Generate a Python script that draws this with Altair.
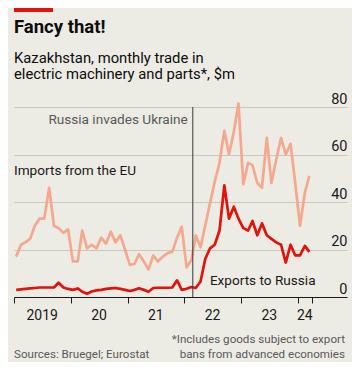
import altair as alt
import pandas as pd

# ---- data ----
start_month = "2019-01"
imports_eu = [17, 22, 23, 24.5, 30, 33, 33, 46, 30, 29, 27, 28.5,
              15, 15, 28, 20.5, 22, 20.5, 25, 22.5, 27.5, 23, 26, 20,
              13.5, 14, 18, 15, 11.5, 17.5, 15, 17, 18.5, 19, 25, 29.6,
              12.5, 15.6, 26, 21, 30, 39.5, 48.5, 56.5, 70, 60, 69.6, 81.5,
              47.5, 56.5, 55.5, 48, 46, 67, 48, 58, 67, 60, 64.5, 48,
              30, 44, 51]
exports_ru = [3, 3.2, 3.4, 3.6, 3.8, 4, 4, 4, 4, 6, 4, 3.4,
              3, 3.6, 2.2, 1.4, 2.3, 2.8, 3, 3.4, 3.6, 3.8, 3.4, 3,
              2.5, 3, 3.7, 3, 2.2, 3.8, 3.9, 3.9, 3.9, 4, 7, 3,
              3.5, 4.2, 3.8, 6.5, 16, 20.5, 22, 28, 47, 33, 38, 33,
              29, 28, 32, 26, 31, 26, 24.5, 23, 22, 14.5, 22, 17.5,
              17.5, 21.5, 19]
series_names = ["Imports from the EU", "Exports to Russia"]
series_colors = ["#F5A88E", "#E3120B"]

year_labels = ["2019", "20", "21", "22", "23", "24"]
year_label_dates = ["2019-07-01", "2020-07-01", "2021-07-01",
                    "2022-07-01", "2023-07-01", "2024-02-15"]
tick_dates = [(2019, 1), (2020, 1), (2021, 1), (2022, 1), (2023, 1), (2024, 1), (2024, 4)]
y_ticks = [0, 20, 40, 60, 80]

invasion_date = "2022-02-24"
event_label = "Russia invades Ukraine"

title = "Fancy that!"
subtitle = ["Kazakhstan, monthly trade in", "electric machinery and parts*, $m"]
source = "Sources: Bruegel; Eurostat"
footnote = ["*Includes goods subject to export", "bans from advanced economies"]

FONT = "Roboto"
BG = "#ECEBE4"

# ---- tables ----
dates = [d.strftime("%Y-%m-%d") for d in
         pd.date_range(start_month + "-01", periods=len(imports_eu), freq="MS") + pd.Timedelta(days=14)]
df = pd.concat([
    pd.DataFrame({"date": dates, "value": imports_eu, "series": series_names[0], "order": 0}),
    pd.DataFrame({"date": dates, "value": exports_ru, "series": series_names[1], "order": 1}),
])

W, H = 333, 190

x_scale = alt.Scale(type="utc", domain=[alt.DateTime(year=2019, month=1, date=1, utc=True),
                                        alt.DateTime(year=2024, month=11, date=12, utc=True)])
y_scale = alt.Scale(domain=[0, 80], nice=False)

x_axis = alt.Axis(values=[alt.DateTime(year=y, month=m, date=1, utc=True) for y, m in tick_dates],
                  labels=False, ticks=True, tickSize=6, tickColor="#1a1a1a", tickWidth=1,
                  domainColor="#1a1a1a", domainWidth=1, grid=False, title=None)
y_axis = alt.Axis(orient="right", values=y_ticks, grid=True, gridColor="#C9C8C0", gridWidth=1,
                  domain=False, ticks=False, tickSize=0, labelAlign="right", labelBaseline="bottom",
                  labelPadding=0, labelOffset=-1, labelFont=FONT, labelFontSize=14.5,
                  labelColor="#1a1a1a", title=None)

lines = alt.Chart(df).mark_line(strokeWidth=2.7, strokeJoin="round", clip=False).encode(
    x=alt.X("date:T", scale=x_scale, axis=x_axis),
    y=alt.Y("value:Q", scale=y_scale, axis=y_axis),
    color=alt.Color("series:N", scale=alt.Scale(domain=series_names, range=series_colors), legend=None),
    order=alt.Order("order:Q"),
    detail="series:N",
)

rule = alt.Chart(pd.DataFrame({"date": [invasion_date], "y0": [0], "y1": [80]})).mark_rule(
    color="#3a3a3a", strokeWidth=1).encode(
    x="date:T", y="y0:Q", y2="y1:Q")

ann_df = pd.DataFrame({
    "date": [invasion_date, "2019-01-01", "2022-06-14"],
    "value": [73, 51.4, 5],
    "text": [event_label, series_names[0], series_names[1]],
})
ann_event = alt.Chart(ann_df.iloc[[0]]).mark_text(
    align="right", baseline="alphabetic", dx=-5, font=FONT, fontSize=13.6, color="#5a5a5a").encode(
    x="date:T", y="value:Q", text="text:N")
ann_series = alt.Chart(ann_df.iloc[[1, 2]]).mark_text(
    align="left", baseline="alphabetic", font=FONT, fontSize=13.6, color="#1a1a1a").encode(
    x="date:T", y="value:Q", text="text:N")

years = alt.Chart(pd.DataFrame({"date": year_label_dates, "label": year_labels})).mark_text(
    align="center", baseline="alphabetic", font=FONT, fontSize=14, color="#1a1a1a").encode(
    x="date:T", y=alt.value(H + 23), text="label:N")

def txt(s, x, y, size, color, align="left", weight="normal"):
    return alt.Chart(pd.DataFrame({"t": [s]})).mark_text(
        align=align, baseline="alphabetic", font=FONT, fontSize=size, color=color,
        fontWeight=weight).encode(x=alt.value(x), y=alt.value(y), text="t:N")

header = [
    txt(title, 0, -74, 18.5, "#0d0d0d", weight="bold"),
    txt(subtitle[0], 0, -44, 14.8, "#0d0d0d"),
    txt(subtitle[1], 0, -27.6, 14.8, "#0d0d0d"),
    txt(footnote[0], W - 2, H + 46, 11.6, "#5a5a5a", align="right"),
    txt(footnote[1], W - 2, H + 61, 11.6, "#5a5a5a", align="right"),
    txt(source, 0, H + 61, 11.6, "#5a5a5a"),
]

red_bar = alt.Chart(pd.DataFrame({"a": [1]})).mark_rect(color="#E3120B").encode(
    x=alt.value(0), x2=alt.value(39), y=alt.value(-99), y2=alt.value(-95))

chart = alt.layer(lines, rule, ann_event, ann_series, years, red_bar, *header).properties(
    width=W, height=H,
    autosize=alt.AutoSizeParams(type="none"),
    padding={"left": 6, "top": 99, "right": 5, "bottom": 65},
    background=BG,
).configure_view(stroke=None)

chart.save("out.html", embed_options={"renderer": "svg", "actions": False})
